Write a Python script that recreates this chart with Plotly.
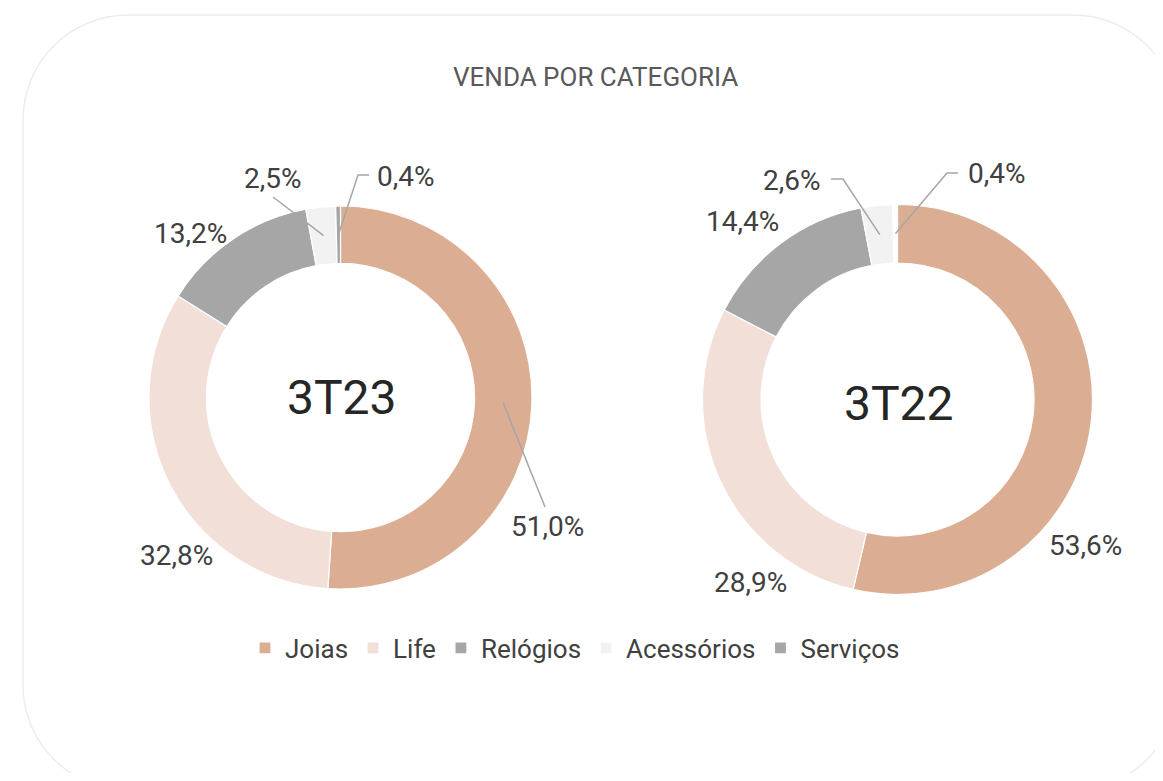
import math
import plotly.graph_objects as go

# ---------------- data ----------------
categories = ["Joias", "Life", "Relógios", "Acessórios", "Serviços"]
values_3t23 = [51.0, 32.8, 13.2, 2.5, 0.4]
values_3t22 = [53.6, 28.9, 14.4, 2.6, 0.4]
period_names = ["3T23", "3T22"]
title_text = "VENDA POR CATEGORIA"

colors = ["#DBAE94", "#F2DFD7", "#A6A6A6", "#F2F2F2", "#A6A6A6"]
colors_2 = ["#DBAE94", "#F2DFD7", "#A6A6A6", "#F2F2F2", "#FFFFFF"]

# ---------------- page geometry (pixels) ----------------
OX, OY = 8, 8           # body margin of the page
W, H = 1147, 765        # figure size


def px(x):
    return (x - OX) / W


def py(y):
    return 1 - (y - OY) / H


HOLE = 0.70
pies = [
    dict(cx=340.5, cy=397.5, r=191.5),
    dict(cx=897.5, cy=399.5, r=195.0),
]

# label layout (pixel positions of texts and optional elbow points)
label_layout = [
    {   # 3T23
        "Joias": dict(t=(547, 526), path=[(545, 507)]),
        "Life": dict(t=(176, 555), path=None),
        "Relógios": dict(t=(190, 233), path=None),
        "Acessórios": dict(t=(273, 178), path=[(273, 197)]),
        "Serviços": dict(t=(406, 176), path=[(358, 175), (369, 175)]),
    },
    {   # 3T22
        "Joias": dict(t=(1085, 545), path=None),
        "Life": dict(t=(750, 582), path=None),
        "Relógios": dict(t=(742, 221), path=None),
        "Acessórios": dict(t=(792, 181), path=[(843, 179), (831, 179)]),
        "Serviços": dict(t=(997, 173), path=[(947, 173), (958, 173)]),
    },
]

fig = go.Figure()
for i, (vals, cols) in enumerate([(values_3t23, colors), (values_3t22, colors_2)]):
    g = pies[i]
    fig.add_trace(go.Pie(
        labels=categories,
        values=vals,
        hole=HOLE,
        sort=False,
        direction="clockwise",
        rotation=0,
        textinfo="none",
        hoverinfo="label+percent",
        marker=dict(colors=cols, line=dict(color="#FFFFFF", width=1.2)),
        domain=dict(x=[px(g["cx"] - g["r"]), px(g["cx"] + g["r"])],
                    y=[py(g["cy"] + g["r"]), py(g["cy"] - g["r"])]),
        showlegend=(i == 0),
        name=period_names[i],
    ))

annotations = []
shapes = []
LINE_COL = "#A6A6A6"
TXT_COL = "#404040"

for i, vals in enumerate([values_3t23, values_3t22]):
    g = pies[i]
    total = sum(vals)
    cum = 0.0
    rmid = g["r"] * (1 + HOLE) / 2
    for cat, v in zip(categories, vals):
        mid = (cum + v / 2) / total * 2 * math.pi
        cum += v
        ax = g["cx"] + rmid * math.sin(mid)
        ay = g["cy"] - rmid * math.cos(mid)
        lay = label_layout[i][cat]
        txt = f"{v:.1f}".replace(".", ",") + "%"
        tx, ty = lay["t"]
        annotations.append(dict(
            x=px(tx), y=py(ty), xref="paper", yref="paper",
            text=txt, showarrow=False,
            font=dict(family="Roboto", size=28, color=TXT_COL),
            xanchor="center", yanchor="middle",
        ))
        if lay["path"]:
            pts = [(ax, ay)] + lay["path"]
            d = "M " + " L ".join(f"{px(x):.5f},{py(y):.5f}" for x, y in pts)
            shapes.append(dict(type="path", xref="paper", yref="paper", path=d,
                               line=dict(color=LINE_COL, width=1.5)))
    # center label
    annotations.append(dict(
        x=px(g["cx"] + 1), y=py(g["cy"] + (0 if i == 0 else 4)), xref="paper", yref="paper",
        text=period_names[i], showarrow=False,
        font=dict(family="Roboto", size=48, color="#262626"),
        xanchor="center", yanchor="middle",
    ))

# title
annotations.append(dict(
    x=px(595), y=py(77), xref="paper", yref="paper",
    text=title_text, showarrow=False,
    font=dict(family="Roboto", size=26, color="#595959"),
    xanchor="center", yanchor="middle",
))

# rounded frame around the chart
x0, y0, x1, y1, rad = 23, 15, 1178, 790, 105
k = 0.5523 * rad
frame_pts = (
    f"M {px(x0 + rad)},{py(y0)} L {px(x1 - rad)},{py(y0)} "
    f"C {px(x1 - rad + k)},{py(y0)} {px(x1)},{py(y0 + rad - k)} {px(x1)},{py(y0 + rad)} "
    f"L {px(x1)},{py(y1 - rad)} "
    f"C {px(x1)},{py(y1 - rad + k)} {px(x1 - rad + k)},{py(y1)} {px(x1 - rad)},{py(y1)} "
    f"L {px(x0 + rad)},{py(y1)} "
    f"C {px(x0 + rad - k)},{py(y1)} {px(x0)},{py(y1 - rad + k)} {px(x0)},{py(y1 - rad)} "
    f"L {px(x0)},{py(y0 + rad)} "
    f"C {px(x0)},{py(y0 + rad - k)} {px(x0 + rad - k)},{py(y0)} {px(x0 + rad)},{py(y0)} Z"
)
shapes.insert(0, dict(type="path", xref="paper", yref="paper", path=frame_pts,
                      line=dict(color="#EDEDED", width=1.5), layer="below"))

fig.update_layout(
    width=W, height=H,
    margin=dict(l=0, r=0, t=0, b=0),
    paper_bgcolor="#FFFFFF",
    plot_bgcolor="#FFFFFF",
    font=dict(family="Roboto", color=TXT_COL),
    annotations=annotations,
    shapes=shapes,
    legend=dict(
        orientation="h",
        x=px(575), xanchor="center",
        y=py(648), yanchor="middle",
        font=dict(family="Roboto", size=26, color=TXT_COL),
        itemclick=False,
        traceorder="normal",
    ),
)

fig.write_html("out.html")
